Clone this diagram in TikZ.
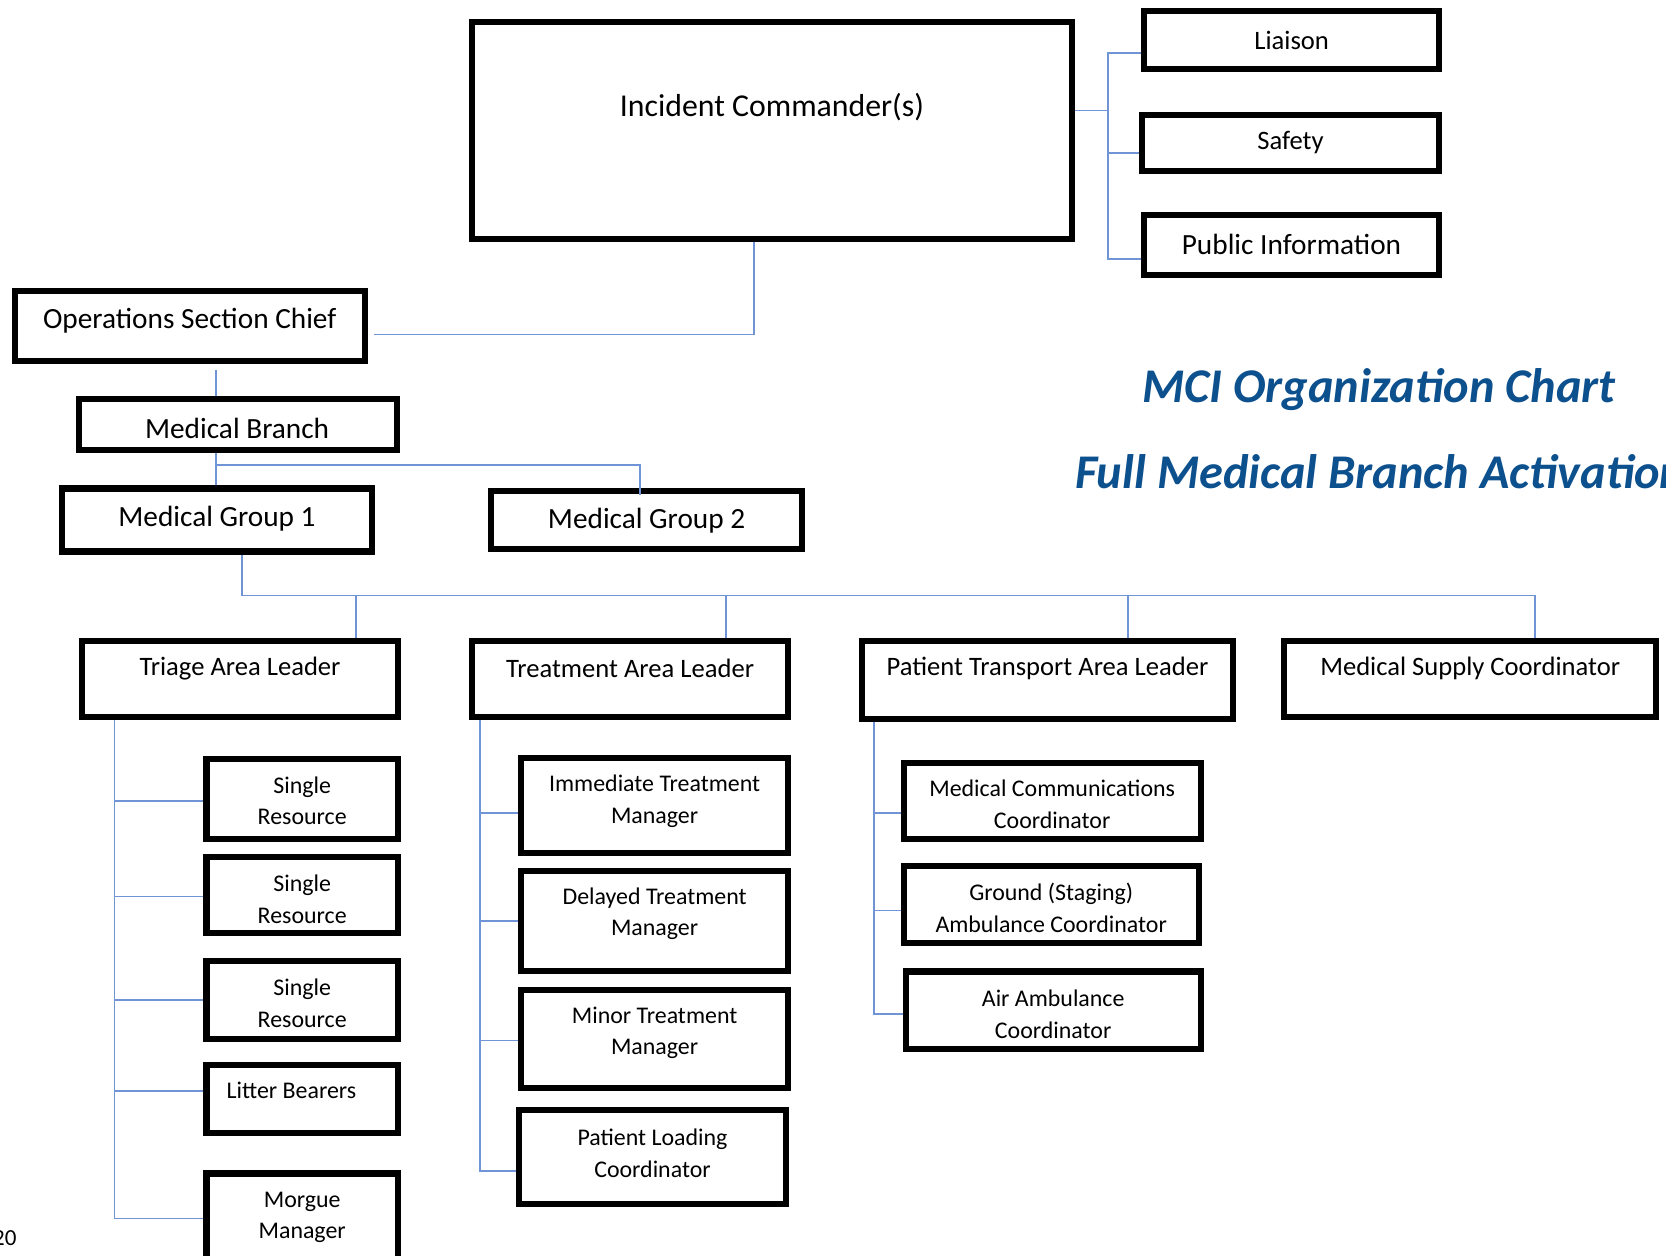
\documentclass[tikz,border=0pt]{standalone}
\usepackage{fontspec}
\setmainfont{Carlito}
\usetikzlibrary{positioning}

\definecolor{linkblue}{RGB}{112,148,214}
\definecolor{titleblue}{RGB}{12,80,142}

\tikzset{
  box/.style={draw=black, line width=6.2pt, inner sep=0pt},
  conn/.style={draw=linkblue, line width=1.6pt},
  txt/.style={inner sep=0pt, align=center},
  ictxt/.style={txt, font=\fontsize{31.8}{38}\selectfont},
  bigtxt/.style={txt, font=\fontsize{29.3}{35}\selectfont},
  midtxt/.style={txt, font=\fontsize{26.6}{32}\selectfont},
  smalltxt/.style={txt, font=\fontsize{23.9}{31.5}\selectfont},
  titletxt/.style={inner sep=0pt, text=titleblue, font=\fontsize{48.4}{58}\selectfont\bfseries\itshape}
}

\begin{document}
\begin{tikzpicture}[x=1pt, y=-1pt]
\fill[white] (0,0) rectangle (1666,1256);
\useasboundingbox (0,0) rectangle (1666,1256);

% command and staff
\node[box, minimum width=600.5, minimum height=217] (ic) at (772,130.8) {};
\node[ictxt] (ic-t) at ([yshift=23.8pt]ic) {Incident Commander(s)};
\node[box, minimum width=295, minimum height=58] (lia) at (1291.7,40) {};
\node[midtxt] (lia-t) at (lia) {Liaison};
\node[box, minimum width=297.5, minimum height=56.5] (saf) at (1290.5,142.9) {};
\node[midtxt] (saf-t) at (saf) {Safety};
\node[box, minimum width=295.5, minimum height=60] (pin) at (1291.5,244.8) {};
\node[bigtxt] (pin-t) at (pin) {Public Information};

% titles
\node[titletxt, anchor=base west] (title1) at (1142,402) {MCI Organization Chart};
\node[titletxt, anchor=base west] (title2) at (1075,488) {Full Medical Branch Activation};

% operations, branch, groups
\node[box, minimum width=350, minimum height=70] (osc) at (189.7,325.6) {};
\node[bigtxt] (osc-t) at ([yshift=5.2pt]osc) {Operations Section Chief};
\node[box, minimum width=317.5, minimum height=51] (mb) at (238.1,424.2) {};
\node[bigtxt] (mb-t) at ([xshift=-1pt,yshift=-4.4pt]mb) {Medical Branch};
\node[box, minimum width=310.5, minimum height=63] (mg1) at (217,520) {};
\node[bigtxt] (mg1-t) at ([yshift=1.6pt]mg1) {Medical Group 1};
\node[box, minimum width=310.5, minimum height=58] (mg2) at (646.6,520.3) {};
\node[bigtxt] (mg2-t) at (mg2) {Medical Group 2};

% area leaders
\node[box, minimum width=316, minimum height=76] (tal) at (240,679) {};
\node[midtxt] (tal-t) at ([yshift=10.3pt]tal) {Triage Area Leader};
\node[box, minimum width=316, minimum height=76] (tra) at (630,679) {};
\node[midtxt] (tra-t) at ([yshift=10.3pt]tra) {Treatment Area Leader};
\node[box, minimum width=371.5, minimum height=78] (pta) at (1047.5,679.7) {};
\node[midtxt] (pta-t) at ([yshift=11pt]pta) {Patient Transport Area Leader};
\node[box, minimum width=372, minimum height=76] (msc) at (1470.2,678.7) {};
\node[midtxt] (msc-t) at ([yshift=10pt]msc) {Medical Supply Coordinator};

% triage unit
\node[box, minimum width=191.5, minimum height=79.7] (sr1) at (302.2,798.9) {};
\node[smalltxt] (sr1-t) at ([yshift=-2.1pt]sr1) {Single\\Resource};
\node[box, minimum width=191.5, minimum height=75.7] (sr2) at (302.2,895) {};
\node[smalltxt] (sr2-t) at ([yshift=-4.5pt]sr2) {Single\\Resource};
\node[box, minimum width=191.5, minimum height=78] (sr3) at (302.2,1000) {};
\node[smalltxt] (sr3-t) at ([yshift=-3.4pt]sr3) {Single\\Resource};
\node[box, minimum width=191.5, minimum height=68.5] (lit) at (302.2,1099) {};
\node[smalltxt] (lit-t) at ([xshift=-10.8pt,yshift=8.5pt]lit) {Litter Bearers};
\node[box, minimum width=191.5, minimum height=126.5] (mor) at (302.2,1236.75) {};
\node[smalltxt] (mor-t) at ([yshift=-47pt]mor.north) {Morgue\\Manager};

% treatment unit
\node[box, minimum width=266.5, minimum height=95] (itm) at (654.6,805.7) {};
\node[smalltxt] (itm-t) at ([yshift=4.7pt]itm) {Immediate Treatment\\Manager};
\node[box, minimum width=266.5, minimum height=100] (dtm) at (654.6,920.8) {};
\node[smalltxt] (dtm-t) at ([yshift=7.3pt]dtm) {Delayed Treatment\\Manager};
\node[box, minimum width=266.5, minimum height=97.5] (mtm) at (654.6,1039) {};
\node[smalltxt] (mtm-t) at ([yshift=6pt]mtm) {Minor Treatment\\Manager};
\node[box, minimum width=266.5, minimum height=93.5] (plc) at (652.5,1157) {};
\node[smalltxt] (plc-t) at ([yshift=3.8pt]plc) {Patient Loading\\Coordinator};

% transport unit
\node[box, minimum width=297, minimum height=76.5] (mcc) at (1052.2,801) {};
\node[smalltxt] (mcc-t) at ([yshift=-3.5pt]mcc) {Medical Communications\\Coordinator};
\node[box, minimum width=295, minimum height=77] (gac) at (1051.2,904.5) {};
\node[smalltxt] (gac-t) at ([yshift=-3.5pt]gac) {Ground (Staging)\\Ambulance Coordinator};
\node[box, minimum width=295, minimum height=77.3] (aac) at (1053.2,1010.2) {};
\node[smalltxt] (aac-t) at ([yshift=-4.1pt]aac) {Air Ambulance\\Coordinator};

% page number
\node[inner sep=0pt, anchor=base west, font=\fontsize{23}{27}\selectfont] (pg) at (-7,1245) {20};

% connectors
\draw[conn] ([xshift=-18pt]ic.south) |- ([xshift=6.5pt,yshift=-9pt]osc.east);
\draw[conn] ([yshift=20.5pt]ic.east) -- ++(32.65,0);
\draw[conn] ([yshift=-13pt]lia.west) -- ++(-32.9,0) |- ([yshift=-14pt]pin.west);
\draw[conn] ([yshift=-9.8pt]saf.west) -- ++(-30.65,0);

\draw[conn] ([xshift=26.3pt,yshift=-6pt]osc.south) -- ([xshift=-22.1pt]mb.north);
\draw[conn] ([xshift=-22.1pt]mb.south) -- ([xshift=-1pt]mg1.north);
\draw[conn] ([xshift=-22.1pt,yshift=-12pt]mb.south) -| ([xshift=-6.4pt,yshift=-6.7pt]mg2.north);

\draw[conn] ([xshift=25pt]mg1.south) -- ++(0,41) -| ([xshift=64.8pt]msc.north);
\foreach \n/\dx in {tal/116.2, tra/95.9, pta/80.5}
  \draw[conn] ([xshift=\dx pt]\n.north) -- ++(0,-42.5);

\draw[conn] ([xshift=35.7pt]tal.south west) |- ([yshift=-48pt]mor.north west);
\foreach \n/\dy in {sr1/-2, sr2/-1.6, sr3/0, lit/8}
  \draw[conn] ([yshift=\dy pt]\n.west) -- ++(-88.65,0);

\draw[conn] ([xshift=11.1pt]tra.south west) |- ([yshift=-13.8pt]plc.west);
\foreach \n/\dy in {itm/-7, dtm/0, mtm/-1.6}
  \draw[conn] ([yshift=\dy pt]\n.west) -- ++(-38.25,0);

\draw[conn] ([xshift=15.1pt]pta.south west) |- ([yshift=-3.8pt]aac.west);
\foreach \n/\dy in {mcc/-11.7, gac/-5.9}
  \draw[conn] ([yshift=\dy pt]\n.west) -- ++(-27,0);
\end{tikzpicture}
\end{document}
